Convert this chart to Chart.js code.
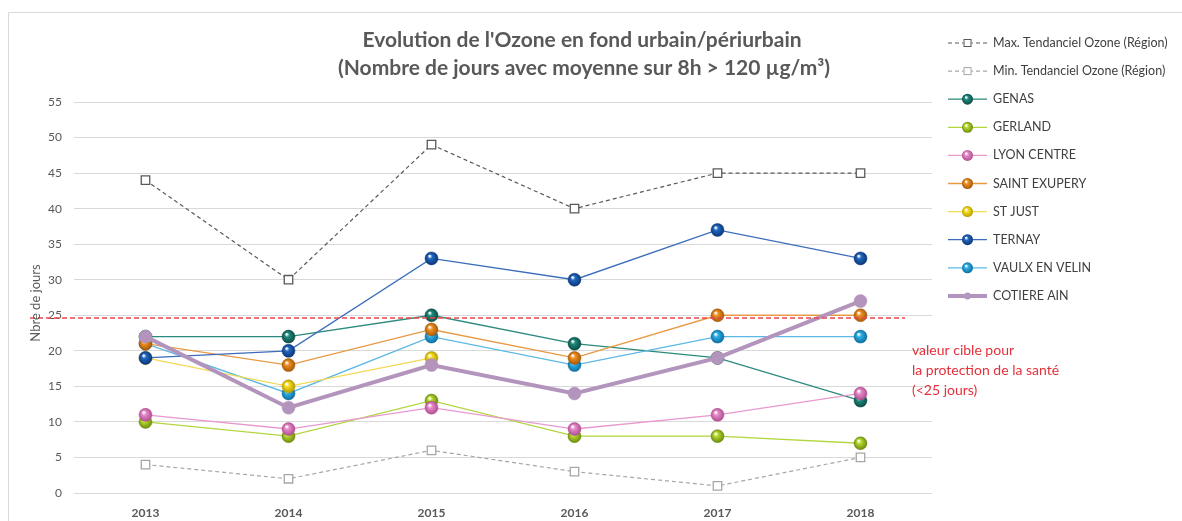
<!DOCTYPE html>
<html>
<head>
<meta charset="utf-8">
<script src="https://cdn.jsdelivr.net/npm/chart.js@4/dist/chart.umd.min.js"></script>
<style>
  html, body { margin: 0; padding: 0; background: #fff; }
  #wrap { width: 1182px; height: 521px; }
</style>
</head>
<body>
<div id="wrap"><canvas id="ozone" width="1182" height="521"></canvas></div>
<script>
// données
const years = ['2013', '2014', '2015', '2016', '2017', '2018'];
const maxRegion = [44, 30, 49, 40, 45, 45];
const minRegion = [4, 2, 6, 3, 1, 5];
const genas = [22, 22, 25, 21, 19, 13];
const gerland = [10, 8, 13, 8, 8, 7];
const lyonCentre = [11, 9, 12, 9, 11, 14];
const saintExupery = [21, 18, 23, 19, 25, 25];
const stJust = [19, 15, 19, null, null, null];
const ternay = [19, 20, 33, 30, 37, 33];
const vaulxEnVelin = [21, 14, 22, 18, 22, 22];
const cotiereAin = [22, 12, 18, 14, 19, 27];
const valeurCible = 24.6;

const titleLines = [
  "Evolution de l'Ozone en fond urbain/périurbain",
  '(Nombre de jours avec moyenne sur 8h > 120 µg/m³)',
];
const cibleLines = ['valeur cible pour', 'la protection de la santé', '(<25 jours)'];

const FONT = 'Lato, "Open Sans", sans-serif';

// petit effet "bille" comme dans Excel
function sphere(color, dark) {
  return ctx => {
    const chart = ctx.chart;
    if (!chart.chartArea || ctx.parsed == null || ctx.parsed.y == null) return color;
    const x = chart.scales.x.getPixelForValue(ctx.parsed.x);
    const y = chart.scales.y.getPixelForValue(ctx.parsed.y);
    const g = chart.ctx.createRadialGradient(x - 2, y - 2.5, 0.5, x, y, 6.5);
    g.addColorStop(0, '#ffffff');
    g.addColorStop(0.3, color);
    g.addColorStop(1, dark);
    return g;
  };
}

function station(label, data, color, dark, line, order) {
  return {
    label: label,
    data: data,
    borderColor: line,
    backgroundColor: color,
    legendColor: color,
    pointBackgroundColor: sphere(color, dark),
    pointBorderColor: dark,
    pointRadius: 6.5,
    pointBorderWidth: 0.5,
    borderWidth: 1.3,
    tension: 0,
    order: order,
  };
}

function region(label, data, line, dash) {
  return {
    label: label,
    data: data,
    borderColor: line,
    borderDash: dash,
    borderWidth: 1.2,
    pointStyle: 'rect',
    pointRadius: 6,
    pointBackgroundColor: '#ffffff',
    pointBorderColor: line,
    pointBorderWidth: 1.3,
    tension: 0,
    order: 10,
  };
}

const datasets = [
  region('Max. Tendanciel Ozone (Région)', maxRegion, '#595959', [4, 3]),
  region('Min. Tendanciel Ozone (Région)', minRegion, '#a6a6a6', [4, 3]),
  station('GENAS', genas, '#1e8a7c', '#0c4d45', '#2b8a7e', 5),
  station('GERLAND', gerland, '#b4d82c', '#6f8d10', '#b3d640', 6),
  station('LYON CENTRE', lyonCentre, '#e68ac8', '#b04f92', '#e999cf', 4),
  station('SAINT EXUPERY', saintExupery, '#ee9024', '#a65a08', '#e89a45', 3),
  station('ST JUST', stJust, '#f7dc22', '#b59c00', '#f2da55', 3),
  station('TERNAY', ternay, '#2068c0', '#0c3778', '#3b6dbb', 2),
  station('VAULX EN VELIN', vaulxEnVelin, '#2eaee6', '#0d6fa0', '#5cb8e4', 3),
  Object.assign(station('COTIERE AIN', cotiereAin, '#b596be', '#8e6b98', '#b394bc', 1), {
    borderWidth: 4, pointBackgroundColor: '#b394bc', pointBorderColor: '#b394bc',
  }),
];

// cadre, titre, légende, ligne de valeur cible
const decor = {
  id: 'decor',
  beforeDraw(chart) {
    const c = chart.ctx;
    c.save();
    c.strokeStyle = '#d9d9d9';
    c.lineWidth = 1;
    c.beginPath();
    c.moveTo(8.5, 521);
    c.lineTo(8.5, 12.5);
    c.lineTo(1182, 12.5);
    c.stroke();
    c.restore();
  },
  afterDatasetsDraw(chart) {
    const c = chart.ctx;
    const y = chart.scales.y.getPixelForValue(valeurCible);
    c.save();
    c.strokeStyle = '#e8474c';
    c.lineWidth = 1.5;
    c.setLineDash([5, 3]);
    c.beginPath();
    c.moveTo(30, y);
    c.lineTo(905, y);
    c.stroke();
    c.restore();
  },
  afterDraw(chart) {
    const c = chart.ctx;
    c.save();
    // titre
    c.fillStyle = '#595959';
    c.font = 'bold 21px ' + FONT;
    c.textAlign = 'center';
    c.textBaseline = 'middle';
    c.fillText(titleLines[0], 582, 40);
    c.fillText(titleLines[1], 584, 68);

    // titre axe Y
    c.font = '13px ' + FONT;
    c.translate(36, 303);
    c.rotate(-Math.PI / 2);
    c.fillText('Nbre de jours', 0, 0);
    c.setTransform(1, 0, 0, 1, 0, 0);

    // texte valeur cible
    c.fillStyle = '#e5303a';
    c.font = '14px ' + FONT;
    c.textAlign = 'left';
    cibleLines.forEach((t, i) => c.fillText(t, 912, 350 + i * 20));

    // légende
    c.font = '12.5px ' + FONT;
    c.fillStyle = '#404040';
    chart.data.datasets.forEach((ds, i) => {
      const ly = 43 + i * 28.1;
      const x0 = 948, x1 = 987, xm = (x0 + x1) / 2;
      c.save();
      c.strokeStyle = ds.borderColor;
      c.lineWidth = ds.borderWidth;
      if (ds.borderDash) c.setLineDash(ds.borderDash);
      c.beginPath();
      c.moveTo(x0, ly);
      c.lineTo(x1, ly);
      c.stroke();
      c.setLineDash([]);
      if (ds.pointStyle === 'rect') {
        c.fillStyle = '#fff';
        c.fillRect(xm - 4, ly - 4, 8, 8);
        c.lineWidth = 1;
        c.strokeRect(xm - 3.5, ly - 3.5, 7, 7);
      } else if (ds.borderWidth < 3) {
        const g = c.createRadialGradient(xm - 1.5, ly - 2, 0.5, xm, ly, 5.5);
        g.addColorStop(0, '#ffffff');
        g.addColorStop(0.3, ds.legendColor);
        g.addColorStop(1, ds.pointBorderColor);
        c.fillStyle = g;
        c.beginPath();
        c.arc(xm, ly, 5.5, 0, Math.PI * 2);
        c.fill();
      } else {
        c.fillStyle = ds.legendColor;
        c.beginPath();
        c.arc(xm, ly, 3.5, 0, Math.PI * 2);
        c.fill();
      }
      c.restore();
      c.fillText(ds.label, 993, ly);
    });
    c.restore();
  },
};

new Chart(document.getElementById('ozone').getContext('2d'), {
  type: 'line',
  data: { labels: years, datasets: datasets },
  options: {
    responsive: false,
    animation: false,
    spanGaps: false,
    layout: { padding: { left: 0, top: 102, right: 250, bottom: 0 } },
    plugins: {
      legend: { display: false },
      title: { display: false },
      tooltip: { enabled: false },
    },
    scales: {
      x: {
        offset: true,
        grid: { display: false },
        border: { display: false },
        ticks: { color: '#595959', font: { family: FONT, size: 12, weight: 'bold' }, padding: 5 },
        afterFit(scale) { scale.height = 28; },
      },
      y: {
        min: 0,
        max: 55,
        ticks: { stepSize: 5, color: '#595959', font: { family: FONT, size: 12 }, padding: 12 },
        grid: { color: '#d9d9d9', drawTicks: false },
        border: { display: false },
        afterFit(scale) { scale.width = 74; },
      },
    },
  },
  plugins: [decor],
});
</script>
</body>
</html>
